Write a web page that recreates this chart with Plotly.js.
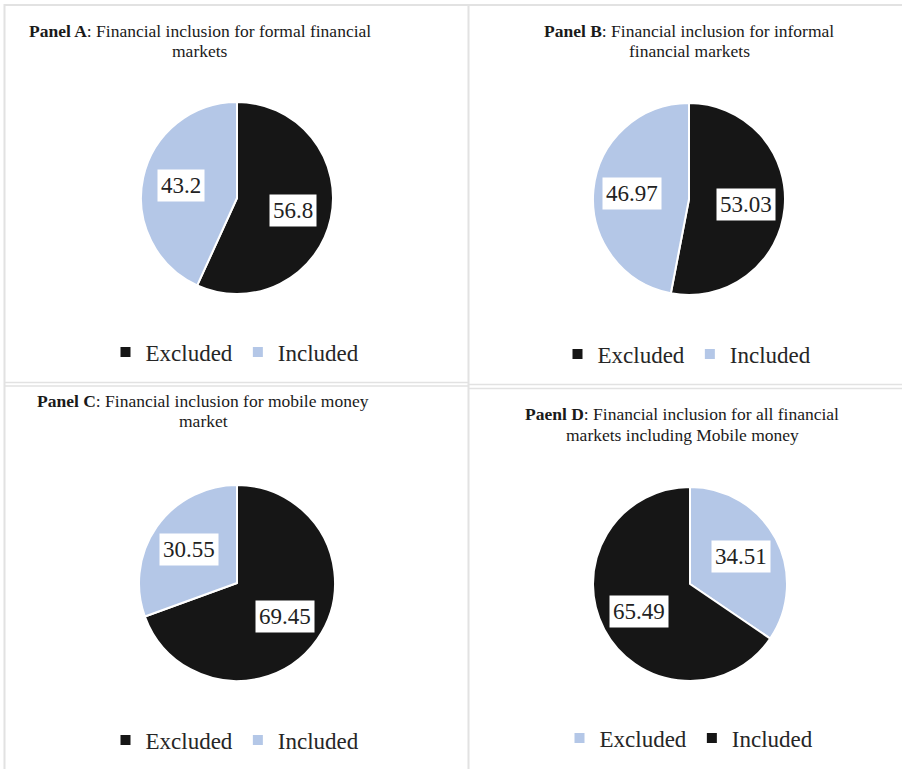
<!DOCTYPE html>
<html><head><meta charset="utf-8">
<script src="https://cdn.plot.ly/plotly-3.0.1.min.js"></script>
<style>html,body{margin:0;padding:0;background:#fff}#chart{width:902px;height:769px}</style>
</head><body><div id="chart"></div>
<script>
// ---- data ----
const categories = ['Excluded', 'Included'];
const panelA = [56.8, 43.2];
const panelB = [53.03, 46.97];
const panelC = [69.45, 30.55];
const panelD = [34.51, 65.49];
const titleBold = ['Panel A', 'Panel B', 'Panel C', 'Paenl D'];
const titleLine1 = [': Financial inclusion for formal financial', ': Financial inclusion for informal', ': Financial inclusion for mobile money', ': Financial inclusion for all financial'];
const titleLine2 = ['markets', 'financial markets', 'market', 'markets including Mobile money'];

// ---- styling / layout ----
const W = 902, H = 769;
const BLACK = '#161616', BLUE = '#b4c7e7';
const FONT = 'Liberation Serif, Times New Roman, serif';
const px = x => x / W;
const py = y => 1 - y / H;

const panels = [
  {vals: panelA, colors: [BLACK, BLUE], cx: 237, cy: 198, r: 96, tx: 200, t1: 30.5, t2: 50.5, lx: 235, ly: 352},
  {vals: panelB, colors: [BLACK, BLUE], cx: 689, cy: 199, r: 96, tx: 689, t1: 30.5, t2: 51, lx: 687, ly: 354},
  {vals: panelC, colors: [BLACK, BLUE], cx: 237, cy: 583, r: 98, tx: 203, t1: 401, t2: 421, lx: 235, ly: 740},
  {vals: panelD, colors: [BLUE, BLACK], cx: 690, cy: 584, r: 97, tx: 682, t1: 413.5, t2: 434.5, lx: 689, ly: 738}
];

const traces = [];
const annotations = [];
const layout = {
  width: W, height: H,
  margin: {l: 0, r: 0, t: 0, b: 0},
  paper_bgcolor: '#fff',
  font: {family: FONT, color: '#222'},
  showlegend: true,
  shapes: [],
  annotations: annotations
};

panels.forEach((p, i) => {
  const lg = i === 0 ? 'legend' : 'legend' + (i + 1);
  // zero-width suffix keeps each panel's legend entries separate
  const labels = categories.map(c => c + '\u200b'.repeat(i));
  traces.push({
    type: 'pie',
    labels: labels,
    values: p.vals,
    sort: false,
    direction: 'clockwise',
    rotation: 0,
    marker: {colors: p.colors, line: {color: '#ffffff', width: 2}},
    textinfo: 'none',
    hoverinfo: 'label+value',
    legend: lg,
    domain: {x: [px(p.cx - p.r), px(p.cx + p.r)], y: [py(p.cy + p.r), py(p.cy - p.r)]}
  });
  layout[lg] = {
    orientation: 'h',
    x: px(p.lx), y: py(p.ly), xanchor: 'center', yanchor: 'middle',
    font: {family: FONT, size: 23, color: '#262626'},
    bgcolor: 'rgba(0,0,0,0)'
  };
  // data labels at slice mid-angles
  const total = p.vals.reduce((a, b) => a + b, 0);
  let cum = 0;
  p.vals.forEach(v => {
    const th = 2 * Math.PI * (cum + v / 2) / total;
    cum += v;
    const k = 0.6;
    annotations.push({
      xref: 'paper', yref: 'paper',
      x: px(p.cx + k * p.r * Math.sin(th)), y: py(p.cy - k * p.r * Math.cos(th)),
      xanchor: 'center', yanchor: 'middle',
      text: String(v), showarrow: false,
      bgcolor: '#ffffff', borderpad: 3,
      font: {family: FONT, size: 23, color: '#222'}
    });
  });
  // titles
  annotations.push({
    xref: 'paper', yref: 'paper', x: px(p.tx), y: py(p.t1), xanchor: 'center', yanchor: 'middle',
    text: '<b>' + titleBold[i] + '</b>' + titleLine1[i], showarrow: false, borderpad: 0,
    font: {family: FONT, size: 17.5, color: '#1a1a1a'}
  });
  annotations.push({
    xref: 'paper', yref: 'paper', x: px(p.tx), y: py(p.t2), xanchor: 'center', yanchor: 'middle',
    text: titleLine2[i], showarrow: false, borderpad: 0,
    font: {family: FONT, size: 17.5, color: '#1a1a1a'}
  });
});

// panel borders
const LC = '#e2e2e2';
function hline(y, x0, x1, w) { layout.shapes.push({type: 'line', xref: 'paper', yref: 'paper', x0: px(x0), x1: px(x1), y0: py(y), y1: py(y), line: {color: LC, width: w}}); }
function vline(x, y0, y1, w) { layout.shapes.push({type: 'line', xref: 'paper', yref: 'paper', x0: px(x), x1: px(x), y0: py(y0), y1: py(y1), line: {color: LC, width: w}}); }
hline(5, 4, W, 2);
vline(4.5, 4, H, 2);
vline(468.5, 4, H, 2);
hline(382.5, 4, 468, 1.5);
hline(386, 4, 468, 1.5);
hline(384.5, 468, W, 1.5);
hline(388.5, 468, W, 1.5);

Plotly.newPlot('chart', traces, layout, {displayModeBar: false, staticPlot: true});
</script>
</body></html>
